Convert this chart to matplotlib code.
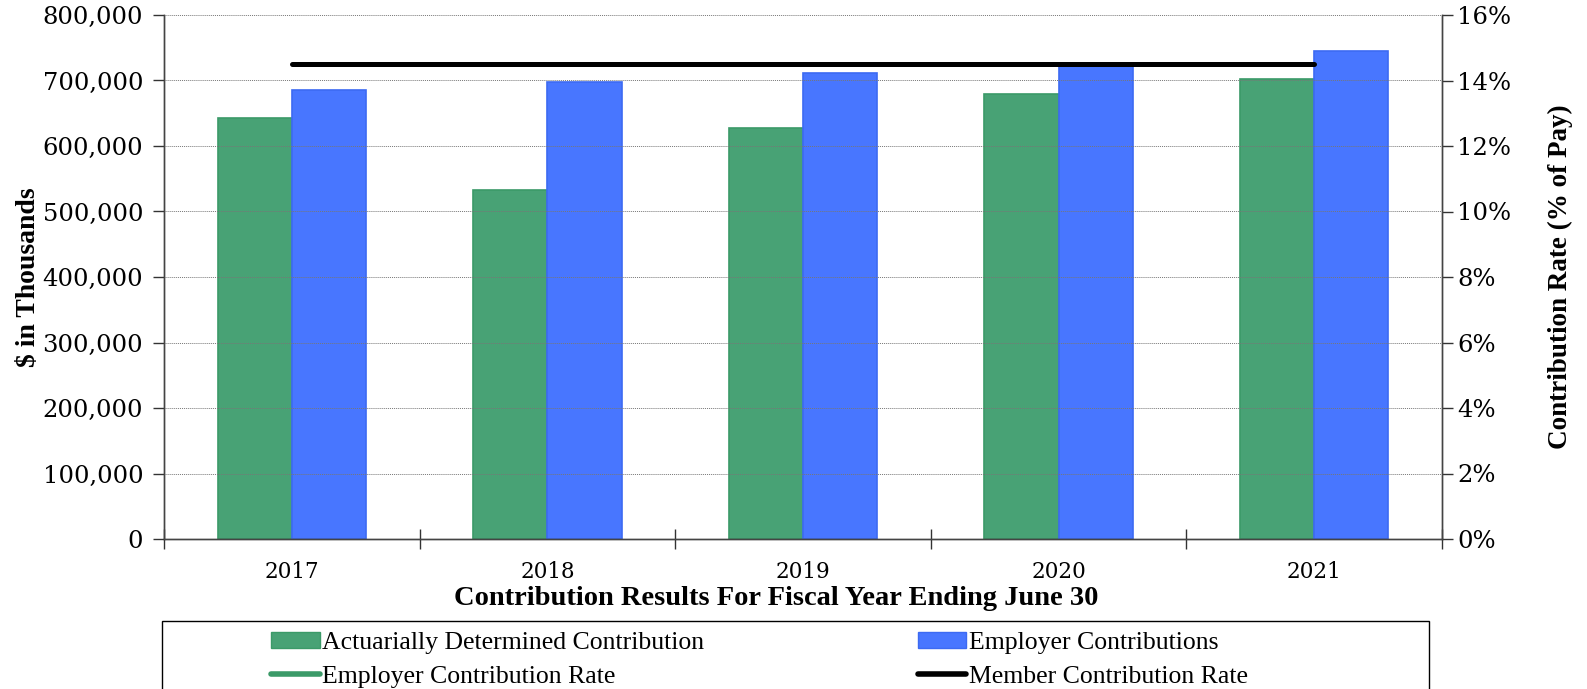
import matplotlib
matplotlib.use('Agg')
import matplotlib.pyplot as plt
from matplotlib.patches import Rectangle, Patch
from matplotlib.lines import Line2D
from matplotlib.ticker import FuncFormatter, MultipleLocator, FixedLocator
import numpy as np

# data ($ thousands / % of pay)
years = ['2017', '2018', '2019', '2020', '2021']
adc = [643000, 533000, 628000, 679000, 703000]
employer_contrib = [686000, 698000, 712000, 725000, 745000]
employer_rate = [np.nan, np.nan, np.nan, np.nan, np.nan]  # not visible on the chart
member_rate = [14.5, 14.5, 14.5, 14.5, 14.5]

GREEN = '#48a275'
GREEN_EDGE = '#3b9a68'
BLUE = '#4876ff'
BLUE_EDGE = '#3c6af2'

serif = ['Liberation Serif', 'DejaVu Serif']
tickfont = 'DejaVu Serif'

W, H = 1587, 689
fig = plt.figure(figsize=(W / 100, H / 100), dpi=100)
L, R, T, B = 164, 1442, 15, 539
ax = fig.add_axes([L / W, 1 - B / H, (R - L) / W, (B - T) / H])
ax2 = ax.twinx()

x = np.arange(len(years))
bw = 0.29
ax.bar(x - bw / 2, adc, bw, color=GREEN, edgecolor=GREEN_EDGE, linewidth=1.2, zorder=1)
ax.bar(x + bw / 2, employer_contrib, bw, color=BLUE, edgecolor=BLUE_EDGE, linewidth=1.2, zorder=1)

ax2.plot(x, employer_rate, color=GREEN_EDGE, lw=3.6, solid_capstyle='round')
ax2.plot(x, member_rate, color='black', lw=3.6, solid_capstyle='round')

ax.set_xlim(-0.5, len(years) - 0.5)
ax.set_ylim(0, 800000)
ax2.set_ylim(0, 16)

ax.yaxis.set_major_locator(MultipleLocator(100000))
ax.yaxis.set_major_formatter(FuncFormatter(lambda v, p: f'{int(v):,}'))
ax2.yaxis.set_major_locator(MultipleLocator(2))
ax2.yaxis.set_major_formatter(FuncFormatter(lambda v, p: f'{int(v)}%'))

# category boundaries as major ticks, labels on minor ticks
ax.xaxis.set_major_locator(FixedLocator(np.arange(-0.5, len(years), 1.0)))
ax.xaxis.set_major_formatter(FuncFormatter(lambda v, p: ''))
ax.set_xticks(x, years, minor=True)
ax.tick_params(axis='x', which='major', direction='inout', length=14, width=1, color='#333')
ax.tick_params(axis='x', which='minor', length=0, pad=16, labelsize=15.5)
for lab in ax.get_xticklabels(minor=True):
    lab.set_family(tickfont)

ax.tick_params(axis='y', direction='out', length=8, width=1, color='#333', pad=7, labelsize=17.5)
ax2.tick_params(axis='y', direction='out', length=8, width=1, color='#333', pad=3, labelsize=17.5)
for lab in ax.get_yticklabels() + ax2.get_yticklabels():
    lab.set_family(tickfont)

ax.set_axisbelow(False)
ax.grid(axis='y', linestyle=(0, (1, 1)), color='#777', lw=0.7)

for a in (ax, ax2):
    a.spines['top'].set_visible(False)
    for s in ('left', 'right', 'bottom'):
        a.spines[s].set_color('#444')
        a.spines[s].set_linewidth(1)

ax.set_ylabel('$ in Thousands', family=serif, fontsize=20, fontweight='bold')
ax.yaxis.set_label_coords(-0.096, 0.5)
ax2.set_ylabel('Contribution Rate (% of Pay)', family=serif, fontsize=19.5, fontweight='bold')
ax2.yaxis.set_label_coords(1.083, 0.5)
ax.set_xlabel('Contribution Results For Fiscal Year Ending June 30', family=serif,
              fontsize=20.5, fontweight='bold')
ax.xaxis.set_label_coords(0.479, -0.09)

handles = [Patch(facecolor=GREEN, edgecolor=GREEN_EDGE),
           Line2D([], [], color=GREEN_EDGE, lw=4, solid_capstyle='round'),
           Patch(facecolor=BLUE, edgecolor=BLUE_EDGE),
           Line2D([], [], color='black', lw=4, solid_capstyle='round')]
labels = ['Actuarially Determined Contribution', 'Employer Contribution Rate',
          'Employer Contributions', 'Member Contribution Rate']
fig.legend(handles, labels, ncol=2, loc='upper left',
           bbox_to_anchor=(258 / W, 1 - 619 / H), bbox_transform=fig.transFigure,
           frameon=False, borderpad=0, handlelength=1.9, handleheight=0.6,
           handletextpad=0.1, labelspacing=0.46, columnspacing=8.3,
           prop={'family': serif, 'size': 18.5})

fig.add_artist(Rectangle((162 / W, -0.1), (1429 - 162) / W, (1 - 621 / H) + 0.1,
                         transform=fig.transFigure, fill=False, edgecolor='black', lw=1))

fig.savefig('out.png', dpi=100, facecolor='white')
